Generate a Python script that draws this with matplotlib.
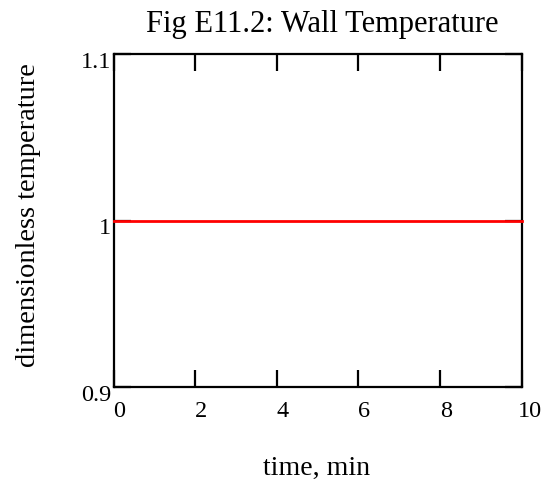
import numpy as np
import matplotlib.pyplot as plt
from matplotlib.ticker import FixedLocator

# data
time_min = [0, 10]
wall_temp = [1.0, 1.0]
x_ticks = [0, 2, 4, 6, 8, 10]
y_ticks = [0.9, 1.0, 1.1]
y_tick_labels = ['0.9', '1', '1.1']

plt.rcParams['font.family'] = ['Liberation Serif', 'DejaVu Serif']

fig = plt.figure(figsize=(5.43, 4.82), dpi=100)
W, H = 543, 482
left, right, top, bottom = 113.5, 521.7, 54.3, 386.7
ax = fig.add_axes([left / W, 1 - bottom / H, (right - left) / W, (bottom - top) / H])

ax.plot(time_min, wall_temp, color='#ff0000', lw=2, zorder=3, clip_on=False)

ax.set_xlim(0, 10)
ax.set_ylim(0.9, 1.1)

for s in ax.spines.values():
    s.set_linewidth(1.6)

ax.xaxis.set_major_locator(FixedLocator(x_ticks))
ax.yaxis.set_major_locator(FixedLocator(y_ticks))
ax.tick_params(direction='in', length=12, width=1.6, top=True, right=True,
               labelbottom=False, labelleft=False)

# tick labels placed like the original (left aligned under ticks)
for xt in x_ticks:
    off = -0.1 if xt == 10 else 0.0
    ax.annotate(str(xt), (xt + off, 0), xycoords=('data', 'axes fraction'),
                xytext=(0, -10.5), textcoords='offset points',
                ha='left', va='top', fontsize=17.5)
for yt, lab in zip(y_ticks, y_tick_labels):
    ax.annotate(lab, (0, yt), xycoords=('axes fraction', 'data'),
                xytext=(-1.5, 1.5), textcoords='offset points',
                ha='right', va='top', fontsize=17.5)

fig.text(322 / W, 1 - 32 / H, 'Fig E11.2: Wall Temperature', ha='center',
         va='baseline', fontsize=22)
fig.text(316.5 / W, 1 - 475 / H, 'time, min', ha='center', va='baseline', fontsize=20)
fig.text(29 / W, 1 - 215 / H, 'dimensionless temperature', ha='center',
         va='center', rotation=90, fontsize=20.5)

fig.savefig('out.png', dpi=100, facecolor='white')
